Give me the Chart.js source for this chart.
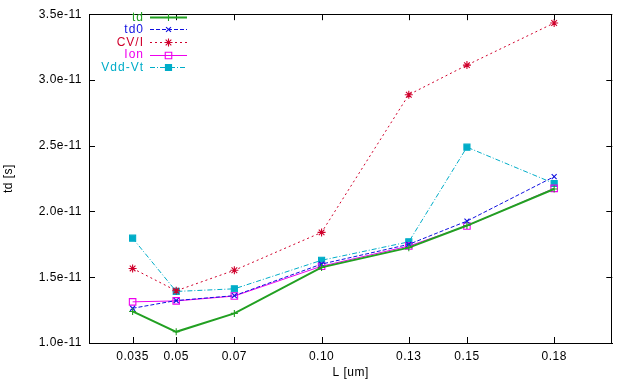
<!DOCTYPE html>
<html><head><meta charset="utf-8">
<script src="https://cdn.jsdelivr.net/npm/chart.js@4"></script>
<style>html,body{margin:0;padding:0;background:#fff}#wrap{width:618px;height:383px}</style>
</head><body><div id="wrap"><canvas id="c" width="618" height="383"></canvas></div>
<script>
// ---- data ----
const lengths = [0.035, 0.05, 0.07, 0.10, 0.13, 0.15, 0.18];
const xTickLabels = ['0.035', '0.05', '0.07', '0.10', '0.13', '0.15', '0.18'];
const yTickValues = [1.0e-11, 1.5e-11, 2.0e-11, 2.5e-11, 3.0e-11, 3.5e-11];
const yTickLabels = ['1.0e-11', '1.5e-11', '2.0e-11', '2.5e-11', '3.0e-11', '3.5e-11'];
const seriesNames = ['td', 'td0', 'CV/I', 'Ion', 'Vdd-Vt'];
const td     = [1.240e-11, 1.085e-11, 1.225e-11, 1.575e-11, 1.725e-11, 1.893e-11, 2.171e-11];
const td0    = [1.264e-11, 1.323e-11, 1.360e-11, 1.600e-11, 1.750e-11, 1.927e-11, 2.265e-11];
const cvi    = [1.567e-11, 1.397e-11, 1.553e-11, 1.841e-11, 2.888e-11, 3.113e-11, 3.433e-11];
const ion    = [1.313e-11, 1.320e-11, 1.357e-11, 1.584e-11, 1.737e-11, 1.890e-11, 2.176e-11];
const vddvt  = [1.797e-11, 1.392e-11, 1.412e-11, 1.629e-11, 1.769e-11, 2.489e-11, 2.213e-11];

const FONT = "'Liberation Sans', Arial, Helvetica, sans-serif";
const pts = arr => arr.map((v, i) => ({x: lengths[i], y: v}));

const styles = [
  {color: '#22a022', width: 2, dash: [], point: 'cross', r: 3.5, fill: '#22a022'},
  {color: '#1010e0', width: 1, dash: [4, 2], point: 'crossRot', r: 3.5, fill: '#1010e0'},
  {color: '#d0002c', width: 1, dash: [2, 3], point: 'star', r: 4, fill: '#d0002c'},
  {color: '#ee00ee', width: 1, dash: [], point: 'rect', r: 4.6, fill: 'rgba(0,0,0,0)'},
  {color: '#00adc8', width: 1, dash: [5, 2, 1, 2], point: 'rect', r: 4.3, fill: '#00adc8'}
];
const values = [td, td0, cvi, ion, vddvt];

const datasets = values.map((v, i) => ({
  label: seriesNames[i],
  data: pts(v),
  borderColor: styles[i].color,
  borderWidth: styles[i].width,
  borderDash: styles[i].dash,
  pointStyle: styles[i].point,
  pointRadius: styles[i].r,
  pointBorderWidth: 1.1,
  pointBorderColor: styles[i].color,
  pointBackgroundColor: styles[i].fill,
  fill: false,
  tension: 0
}));

const framePlugin = {
  id: 'frame',
  beforeDraw(chart) {
    chart.ctx.letterSpacing = '0.5px';
  },
  afterDraw(chart) {
    const {ctx, chartArea: a, scales: {x, y}} = chart;
    ctx.save();
    ctx.letterSpacing = '0px';
    ctx.strokeStyle = '#000';
    ctx.lineWidth = 1;
    ctx.setLineDash([]);
    ctx.strokeRect(Math.round(a.left) + 0.5, Math.round(a.top) + 0.5,
                   Math.round(a.right - a.left) - 1, Math.round(a.bottom - a.top));
    const T = 6;
    ctx.beginPath();
    x.ticks.forEach(t => {
      const px = Math.round(x.getPixelForValue(t.value)) + 0.5;
      ctx.moveTo(px, a.bottom); ctx.lineTo(px, a.bottom - T);
      ctx.moveTo(px, a.top); ctx.lineTo(px, a.top + T);
    });
    y.ticks.forEach(t => {
      const py = Math.round(y.getPixelForValue(t.value)) + 0.5;
      ctx.moveTo(a.left, py); ctx.lineTo(a.left + T, py);
      ctx.moveTo(a.right, py); ctx.lineTo(a.right - T, py);
    });
    ctx.stroke();

    // legend inside plot (top-left)
    ctx.font = '12px ' + FONT;
    ctx.letterSpacing = '1px';
    ctx.textAlign = 'right';
    ctx.textBaseline = 'middle';
    const textX = 144, x0 = 150, x1 = 187, y0 = 16.7, step = 12.6;
    chart.data.datasets.forEach((ds, i) => {
      const yy = y0 + i * step;
      ctx.fillStyle = ds.borderColor;
      ctx.fillText(ds.label, textX, yy + 0.5);
      ctx.strokeStyle = ds.borderColor;
      ctx.lineWidth = ds.borderWidth;
      ctx.setLineDash(ds.borderDash);
      ctx.beginPath();
      ctx.moveTo(x0, Math.round(yy) + 0.5); ctx.lineTo(x1, Math.round(yy) + 0.5);
      ctx.stroke();
      ctx.setLineDash([]);
      const opts = {pointStyle: ds.pointStyle, radius: ds.pointRadius, borderWidth: ds.pointBorderWidth, rotation: 0};
      ctx.fillStyle = ds.pointBackgroundColor;
      ctx.strokeStyle = ds.pointBorderColor;
      ctx.lineWidth = ds.pointBorderWidth;
      if (Chart.helpers && Chart.helpers.drawPoint) {
        Chart.helpers.drawPoint(ctx, opts, (x0 + x1) / 2, Math.round(yy) + 0.5);
      }
    });
    ctx.restore();
  }
};

new Chart(document.getElementById('c'), {
  type: 'line',
  data: {datasets},
  options: {
    responsive: false,
    animation: false,
    devicePixelRatio: 1,
    layout: {padding: {left: 0, top: 5, right: 1, bottom: 0}},
    plugins: {legend: {display: false}, tooltip: {enabled: false}},
    elements: {line: {borderJoinStyle: 'miter'}},
    scales: {
      x: {
        type: 'linear', min: 0.02, max: 0.2,
        afterBuildTicks: s => { s.ticks = lengths.map(v => ({value: v})); },
        afterFit: s => { s.height = 40; },
        grid: {display: false, drawTicks: false},
        border: {display: true, color: '#000', width: 1},
        ticks: {
          autoSkip: false, maxRotation: 0, minRotation: 0, padding: 6, color: '#000',
          font: {family: FONT, size: 12},
          callback: v => xTickLabels[lengths.indexOf(v)]
        },
        title: {display: true, text: 'L [um]', color: '#000', font: {family: FONT, size: 12}, padding: {top: 0, bottom: 3}}
      },
      y: {
        type: 'linear', min: 1.0e-11, max: 3.5e-11,
        afterBuildTicks: s => { s.ticks = yTickValues.map(v => ({value: v})); },
        afterFit: s => { s.width = 89; },
        grid: {display: false, drawTicks: false},
        border: {display: true, color: '#000', width: 1},
        ticks: {
          autoSkip: false, padding: 7, color: '#000',
          font: {family: FONT, size: 12},
          callback: v => yTickLabels[yTickValues.findIndex(t => Math.abs(t - v) < 1e-14)]
        },
        title: {display: true, text: 'td [s]', color: '#000', font: {family: FONT, size: 12}, padding: {top: 1, bottom: 0}}
      }
    }
  },
  plugins: [framePlugin]
});
</script>
</body></html>
